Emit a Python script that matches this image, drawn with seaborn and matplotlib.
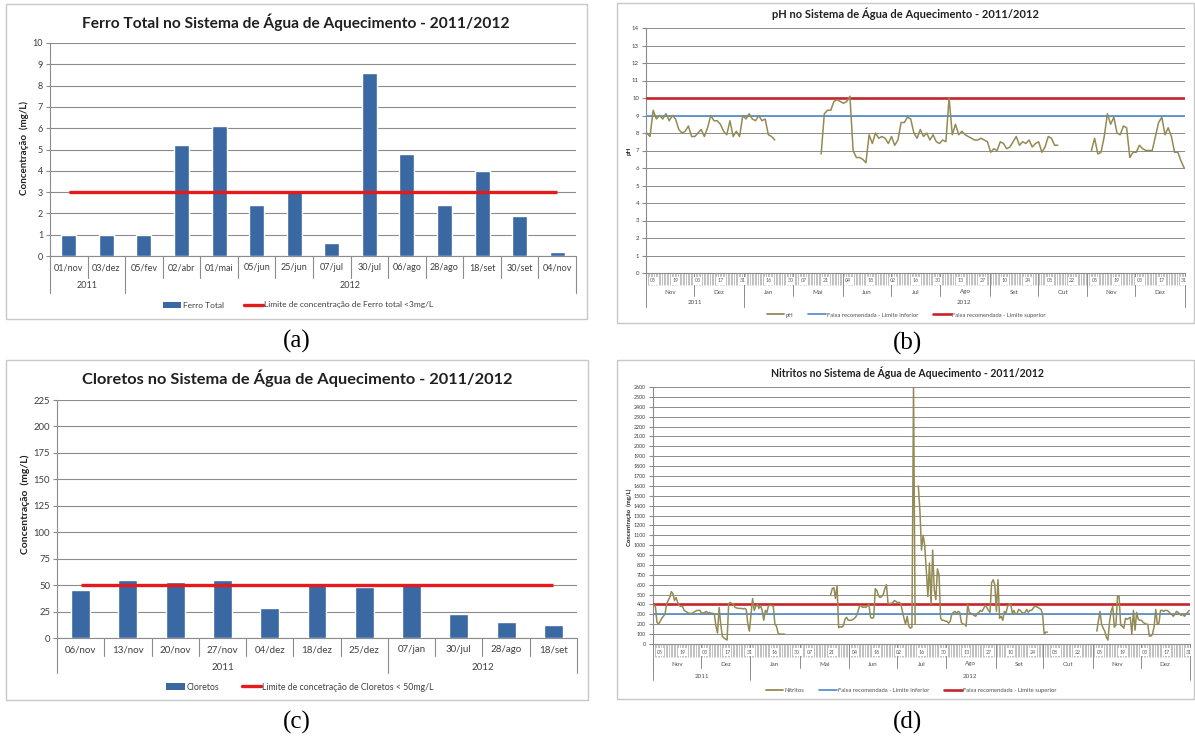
import numpy as np
import pandas as pd
import matplotlib
matplotlib.use('Agg')
import matplotlib.pyplot as plt
import matplotlib.transforms as mtransforms
from matplotlib.patches import Rectangle, Patch
from matplotlib.lines import Line2D
import seaborn as sns

# ---------------- data ----------------
ferro_datas = ['01/nov', '03/dez', '05/fev', '02/abr', '01/mai', '05/jun', '25/jun',
               '07/jul', '30/jul', '06/ago', '28/ago', '18/set', '30/set', '04/nov']
ferro_anos = ['2011', '2011'] + ['2012'] * 12
ferro_valores = [1.0, 1.0, 1.0, 5.2, 6.1, 2.4, 3.0, 0.6, 8.6, 4.8, 2.4, 4.0, 1.9, 0.2]
ferro_limite = 3

cloretos_datas = ['06/nov', '13/nov', '20/nov', '27/nov', '04/dez', '18/dez', '25/dez',
                  '07/jan', '30/jul', '28/ago', '18/set']
cloretos_anos = ['2011'] * 7 + ['2012'] * 4
cloretos_valores = [45, 55, 53, 55, 28, 52, 48, 50, 23, 15, 12.5]
cloretos_limite = 50

# daily category axis (Feb-Apr 2012 absent)
periodos_eixo = [('2011-11-01', '2012-01-31'), ('2012-05-01', '2012-12-31')]
nomes_meses = {11: 'Nov', 12: 'Dez', 1: 'Jan', 5: 'Mai', 6: 'Jun', 7: 'Jul',
               8: 'Ago', 9: 'Set', 10: 'Out'}
rotulos_dias = ['2011-11-05', '2011-11-19', '2011-12-03', '2011-12-17', '2011-12-31',
                '2012-01-16', '2012-01-30', '2012-05-07', '2012-05-21', '2012-06-04',
                '2012-06-18', '2012-07-02', '2012-07-16', '2012-07-30', '2012-08-13',
                '2012-08-27', '2012-09-10', '2012-09-24', '2012-10-08', '2012-10-22',
                '2012-11-05', '2012-11-19', '2012-12-03', '2012-12-17', '2012-12-31']

# pH readings every 2 days
ph_inicio_1 = '2011-11-01'
ph_seg_1 = [8.0, 7.8, 9.3, 8.8, 9.0, 8.8, 9.1, 8.7, 9.0, 8.8, 8.2, 8.0, 8.1, 8.4, 7.8,
            7.8, 8.0, 8.2, 7.8, 8.3, 9.0, 8.7, 8.7, 8.5, 8.1, 7.9, 8.7, 7.8, 8.1, 7.8,
            9.0, 8.8, 9.1, 8.8, 8.7, 9.0, 8.7, 8.8, 7.9, 7.8, 7.6]
ph_inicio_2 = '2012-05-18'
ph_seg_2 = [6.8, 9.1, 9.3, 9.3, 9.8, 9.9, 9.8, 9.7, 9.8, 10.1,
            7.0, 6.6, 6.6, 6.5, 6.3, 7.9, 7.4, 8.0, 7.7, 7.8,
            7.7, 7.4, 7.8, 7.3, 7.6, 8.6, 8.6, 8.9, 8.8, 8.0,
            7.7, 8.2, 7.8, 8.0, 7.6, 7.9, 7.5, 7.4, 7.6, 7.5,
            10.0, 7.9, 8.5, 7.9, 8.1, 7.9, 7.8, 7.7, 7.6, 7.6,
            7.7, 7.6, 7.5, 6.9, 7.1, 7.0, 7.5, 7.4, 7.1, 7.2,
            7.5, 7.8, 7.3, 7.5, 7.4, 7.6, 7.2, 7.4, 7.5, 6.9,
            7.2, 7.8, 7.7, 7.3, 7.3]
ph_inicio_3 = '2012-11-03'
ph_seg_3 = [7.0, 7.7, 6.8, 6.9, 7.8, 9.1, 8.5, 8.9, 8.0, 7.9, 8.4, 8.3, 6.6, 6.9, 6.9,
            7.3, 7.1, 7.0, 7.0, 7.0, 7.8, 8.6, 8.9, 7.9, 8.3, 7.8, 6.9, 6.9, 6.4, 6.0]
ph_inferior = 9
ph_superior = 10

# nitrite daily readings (mg/L)
nit_inicio_1 = '2011-11-01'
nit_seg_1 = [400, 380, 220, 200, 230, 260, 280, 300, 400, 440,
             470, 530, 510, 440, 470, 420, 390, 380, 380, 340,
             330, 320, 310, 310, 310, 320, 330, 340, 340, 340,
             310, 315, 320, 330, 310, 320, 310, 310, 300, 180,
             110, 370, 200, 80, 60, 50, 40, 410, 420, 410,
             400, 370, 365, 360, 360, 360, 355, 360, 350, 200,
             130, 300, 460, 340, 380, 400, 360, 390, 340, 240,
             340, 320, 390, 390, 390, 380, 200, 180, 110, 100,
             100, 100, 100]
nit_inicio_2 = '2012-05-20'
nit_seg_2 = [500, 560, 570, 460, 590, 165, 175, 170, 185, 250,
             270, 240, 240, 240, 250, 260, 280, 320, 380, 390,
             370, 375, 370, 385, 400, 270, 260, 270, 560, 540,
             490, 470, 480, 500, 560, 600, 410, 410, 410, 420,
             440, 430, 420, 420, 410, 330, 260, 200, 280, 180,
             160, 170, 2600, 200]
nit_inicio_3 = '2012-07-14'
nit_seg_3 = [1600, 1350, 950, 1100, 1000, 750, 480, 820, 400, 950,
             550, 450, 760, 700, 260, 240, 240, 230, 230, 210,
             230, 300, 320, 330, 310, 330, 320, 220, 200, 200,
             180, 400, 320, 310, 300, 290, 280, 310, 320, 340,
             330, 360, 390, 370, 340, 320, 620, 650, 600, 330,
             650, 260, 280, 240, 330, 310, 380, 400, 400, 310,
             340, 300, 310, 350, 340, 320, 310, 320, 350, 320,
             340, 340, 360, 380, 380, 370, 360, 350, 300, 100,
             120, 120]
nit_inicio_4 = '2012-11-03'
nit_seg_4 = [130, 230, 330, 200, 160, 130, 70, 40, 220, 330,
             380, 170, 190, 480, 480, 190, 180, 160, 260, 250,
             260, 270, 100, 340, 140, 320, 250, 240, 240, 220,
             210, 200, 200, 80, 80, 100, 180, 350, 200, 210,
             340, 340, 330, 340, 340, 330, 310, 300, 280, 300,
             330, 320, 300, 290, 300, 280, 300, 320, 340]
nit_inferior = 300
nit_superior = 400

# ---------------- style ----------------
COR_BARRA = '#3A68A2'
COR_LIM = '#E41A1C'
COR_SERIE = '#948A54'
COR_INF = '#5B92CE'
COR_SUP = '#C4262C'
COR_GRADE = '#8C8C8C'
COR_EIXO = '#8C8C8C'
COR_TXT = '#404040'

sns.set_theme(style='white')
plt.rcParams['font.family'] = ['Lato', 'DejaVu Sans']

W, H = 1195, 737
fig = plt.figure(figsize=(W / 100, H / 100), dpi=100)
fig.patch.set_facecolor('white')


def fy(py):
    return 1 - py / H


def fx(px):
    return px / W


def add_ax(l, t, r, b):
    return fig.add_axes([fx(l), fy(b), (r - l) / W, (b - t) / H])


def caixa(l, t, r, b):
    fig.add_artist(Rectangle((fx(l), fy(b)), (r - l) / W, (b - t) / H,
                             transform=fig.transFigure, fill=False,
                             edgecolor='#c8c8c8', lw=1.0))


def estilo_eixos(ax, fs_tick):
    for s in ['top', 'right']:
        ax.spines[s].set_visible(False)
    for s in ['left', 'bottom']:
        ax.spines[s].set_color(COR_EIXO)
        ax.spines[s].set_linewidth(0.8)
    ax.tick_params(axis='y', left=True, length=3, width=0.8, color=COR_EIXO,
                   labelsize=fs_tick, labelcolor=COR_TXT, pad=2)
    ax.set_xlabel('')
    ax.set_ylabel('')


def painel_barras(g, cats, anos, vals, lim, ymax, ystep, titulo, ylab, legs, fs):
    l, t, r, b = g['ax']
    ax = add_ax(l, t, r, b)
    df = pd.DataFrame({'data': cats, 'valor': vals})
    sns.barplot(data=df, x='data', y='valor', color=COR_BARRA, saturation=1,
                width=0.4, ax=ax, zorder=3)
    n = len(cats)
    ax.hlines(lim, 0, n - 1, color=COR_LIM, lw=2.4, zorder=4)
    ax.set_xlim(-0.5, n - 0.5)
    ax.set_ylim(0, ymax)
    ax.set_yticks(np.arange(0, ymax + 1e-9, ystep))
    ax.grid(axis='y', color=COR_GRADE, lw=0.8)
    ax.grid(axis='x', visible=False)
    ax.set_axisbelow(True)
    ax.set_xticks([])
    estilo_eixos(ax, fs['tick'])
    tr = mtransforms.blended_transform_factory(ax.transData, fig.transFigure)
    for i, c in enumerate(cats):
        ax.text(i, fy(g['cat_y']), c, transform=tr, ha='center', va='center',
                fontsize=fs['cat'], color=COR_TXT)
    for i in range(n + 1):
        troca = i == 0 or i == n or anos[i] != anos[i - 1]
        yb = g['ano_sep'] if troca else g['sep']
        ax.plot([i - 0.5, i - 0.5], [fy(b), fy(yb)], transform=tr,
                color=COR_EIXO, lw=0.8, clip_on=False)
    for ano in dict.fromkeys(anos):
        idx = [i for i, a in enumerate(anos) if a == ano]
        ax.text((idx[0] + idx[-1]) / 2, fy(g['ano_y']), ano, transform=tr,
                ha='center', va='center', fontsize=fs['cat'], color=COR_TXT)
    fig.text(fx(g['tit'][0]), fy(g['tit'][1]), titulo, ha='center', va='center',
             fontsize=fs['tit'], fontweight='bold', color='#202020')
    fig.text(fx(g['ylab'][0]), fy(g['ylab'][1]), ylab, rotation=90, ha='center',
             va='center', fontsize=fs['ylab'], fontweight='bold', color='#202020')
    handles = [Patch(facecolor=COR_BARRA, edgecolor='none'),
               Line2D([], [], color=COR_LIM, lw=2.4)]
    fig.legend(handles, legs, loc='center', ncol=2, frameon=False,
               bbox_to_anchor=(fx(g['leg'][0]), fy(g['leg'][1])),
               fontsize=fs['leg'], handlelength=2.2, handleheight=0.7,
               handletextpad=0.2, columnspacing=2.5, labelcolor=COR_TXT)
    return ax


dias = pd.DatetimeIndex(np.concatenate([pd.date_range(a, z).values for a, z in periodos_eixo]))
pos_dia = {d: i for i, d in enumerate(dias)}
N = len(dias)


def tabela_serie(segmentos, passo):
    linhas = []
    for s, (inicio, valores) in enumerate(segmentos):
        i0 = pos_dia[pd.Timestamp(inicio)]
        for k, v in enumerate(valores):
            linhas.append((s, i0 + k * passo, v))
    return pd.DataFrame(linhas, columns=['seg', 'pos', 'valor'])


def painel_serie(g, df, inf, sup, ymax, ystep, titulo, ylab, legs, fs):
    l, t, r, b = g['ax']
    ax = add_ax(l, t, r, b)
    ax.axhline(inf, color=COR_INF, lw=1.3, zorder=3)
    ax.axhline(sup, color=COR_SUP, lw=1.9, zorder=3)
    sns.lineplot(data=df, x='pos', y='valor', units='seg', estimator=None,
                 color=COR_SERIE, lw=1.1, ax=ax, legend=False, zorder=4, sort=False)
    ax.set_xlim(-0.5, N - 0.5)
    ax.set_ylim(0, ymax)
    ax.set_yticks(np.arange(0, ymax + 1e-9, ystep))
    ax.grid(axis='y', color=COR_GRADE, lw=0.7)
    ax.grid(axis='x', visible=False)
    ax.set_axisbelow(True)
    estilo_eixos(ax, fs['tick'])
    ax.set_xticks([])
    ax.set_xticks(np.arange(N + 1) - 0.5, minor=True)
    ax.tick_params(axis='x', which='minor', bottom=True,
                   length=(g['tick_b'] - b) * 0.72, width=0.5, color='#a8a8a8')
    tr = mtransforms.blended_transform_factory(ax.transData, fig.transFigure)
    for d in rotulos_dias:
        ts = pd.Timestamp(d)
        ax.text(pos_dia[ts], fy(g['dia_y']), ts.strftime('%d'), transform=tr,
                ha='center', va='center', fontsize=fs['dia'], color='#606060',
                zorder=6, bbox=dict(boxstyle='square,pad=0.25', fc='white', ec='none'))
    meses = pd.Series(np.arange(N), index=[(d.year, d.month) for d in dias])
    chaves = list(dict.fromkeys(meses.index))
    for ch in chaves:
        idx = meses[[ch]].values
        ax.text((idx[0] + idx[-1]) / 2, fy(g['mes_y']), nomes_meses[ch[1]], transform=tr,
                ha='center', va='center', fontsize=fs['mes'], color='#505050')
        ax.plot([idx[0] - 0.5] * 2, [fy(b), fy(g['mes_sep'])], transform=tr,
                color=COR_EIXO, lw=0.7, clip_on=False)
    anos = [d.year for d in dias]
    for ano in dict.fromkeys(anos):
        idx = [i for i, a in enumerate(anos) if a == ano]
        ax.text((idx[0] + idx[-1]) / 2, fy(g['ano_y']), str(ano), transform=tr,
                ha='center', va='center', fontsize=fs['mes'], color='#505050')
        ax.plot([idx[0] - 0.5] * 2, [fy(b), fy(g['ano_sep'])], transform=tr,
                color=COR_EIXO, lw=0.7, clip_on=False)
    ax.plot([N - 0.5] * 2, [fy(b), fy(g['ano_sep'])], transform=tr,
            color=COR_EIXO, lw=0.7, clip_on=False)
    fig.text(fx(g['tit'][0]), fy(g['tit'][1]), titulo, ha='center', va='center',
             fontsize=fs['tit'], fontweight='bold', color='#202020')
    fig.text(fx(g['ylab'][0]), fy(g['ylab'][1]), ylab, rotation=90, ha='center',
             va='center', fontsize=fs['ylab'], fontweight='bold', color='#202020')
    handles = [Line2D([], [], color=COR_SERIE, lw=1.3),
               Line2D([], [], color=COR_INF, lw=1.3),
               Line2D([], [], color=COR_SUP, lw=1.9)]
    fig.legend(handles, legs, loc='center', ncol=3, frameon=False,
               bbox_to_anchor=(fx(g['leg'][0]), fy(g['leg'][1])),
               fontsize=fs['leg'], handlelength=3.0, handletextpad=0.2,
               columnspacing=2.6, labelcolor='#505050')
    return ax


# panel boxes
caixa(6, 4, 587, 319)
caixa(617, 3, 1194, 323)
caixa(6, 360, 588, 700)
caixa(617, 360, 1194, 699)

# (a) Ferro total
painel_barras(
    dict(ax=(50, 43, 576, 256), cat_y=268, sep=278, ano_y=286, ano_sep=293,
         tit=(296, 22), ylab=(24, 148), leg=(298, 305)),
    ferro_datas, ferro_anos, ferro_valores, ferro_limite, 10, 1,
    'Ferro Total no Sistema de Água de Aquecimento - 2011/2012',
    'Concentração  (mg/L)',
    ['Ferro Total', 'Limite de concentração de Ferro total <3mg/L'],
    dict(tick=6.5, cat=6.5, tit=11.2, ylab=7.0, leg=6))

# (c) Cloretos
painel_barras(
    dict(ax=(57, 400, 577, 638), cat_y=650, sep=656, ano_y=668, ano_sep=673,
         tit=(297, 378), ylab=(25, 504), leg=(300, 687)),
    cloretos_datas, cloretos_anos, cloretos_valores, cloretos_limite, 225, 25,
    'Cloretos no Sistema de Água de Aquecimento - 2011/2012',
    'Concentração  (mg/L)',
    ['Cloretos', 'Limite de concetração de Cloretos < 50mg/L'],
    dict(tick=6.8, cat=7, tit=11.8, ylab=7.5, leg=6.3))

# (b) pH
df_ph = tabela_serie([(ph_inicio_1, ph_seg_1), (ph_inicio_2, ph_seg_2),
                      (ph_inicio_3, ph_seg_3)], 2)
painel_serie(
    dict(ax=(646, 28, 1185, 273), tick_b=285, dia_y=281, mes_y=292, mes_sep=296,
         ano_y=303, ano_sep=307, tit=(905, 14), ylab=(629, 151), leg=(906, 315)),
    df_ph, ph_inferior, ph_superior, 14, 1,
    'pH no Sistema de Água de Aquecimento - 2011/2012', 'pH',
    ['pH', 'Faixa recomendada - Limite inferior', 'Faixa recomendada - Limite superior'],
    dict(tick=4.3, dia=3.8, mes=4.5, tit=8.0, ylab=4.5, leg=4.2))

# (d) Nitritos
df_nit = tabela_serie([(nit_inicio_1, nit_seg_1), (nit_inicio_2, nit_seg_2),
                       (nit_inicio_3, nit_seg_3), (nit_inicio_4, nit_seg_4)], 1)
painel_serie(
    dict(ax=(653, 387, 1190, 644), tick_b=657, dia_y=652, mes_y=664, mes_sep=668,
         ano_y=677, ano_sep=680, tit=(907, 373), ylab=(629, 517), leg=(911, 690)),
    df_nit, nit_inferior, nit_superior, 2600, 100,
    'Nitritos no Sistema de Água de Aquecimento - 2011/2012', 'Concentração  (mg/L)',
    ['Nitritos', 'Faixa recomendada - Limite inferior', 'Faixa recomendada - Limite superior'],
    dict(tick=3.8, dia=3.8, mes=4.5, tit=7.6, ylab=4.3, leg=4.2))

# panel letters
for x, y, s in [(297, 341, '(a)'), (908, 343, '(b)'), (297, 722, '(c)'), (908, 722, '(d)')]:
    fig.text(fx(x), fy(y), s, ha='center', va='center', fontsize=18,
             family='Liberation Serif', color='black')

fig.savefig('out.png', dpi=100, facecolor='white')
